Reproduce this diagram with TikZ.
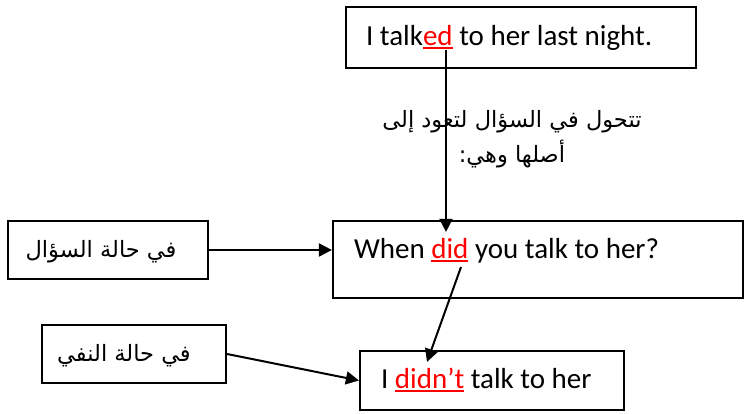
\documentclass[tikz,border=0pt]{standalone}
\usepackage{fontspec}
\setmainfont{Carlito}
\newfontfamily\arabicfont[Script=Arabic]{DejaVu Sans}
\TeXXeTstate=1
\usetikzlibrary{arrows.meta,positioning}
\newcommand\marked[1]{\textcolor{red}{\setbox0\hbox{#1}\rlap{\rule[-3pt]{\wd0}{1.6pt}}\box0}}

\begin{document}
\begin{tikzpicture}[x=1pt,y=-1pt,
  b/.style={draw,line width=2.2pt,inner sep=0pt},
  s/.style={font=\fontsize{29}{34}\selectfont,inner sep=0pt,anchor=base west},
  ar/.style={font=\arabicfont\fontsize{22.5}{35}\selectfont,align=center,inner sep=0pt},
  arr/.style={line width=2pt,-{Triangle[length=13pt,width=13pt]}}]
\useasboundingbox (0,0) rectangle (745,414);
% the three sentences
\node[b,minimum width=350pt,minimum height=61pt] (past) at (521,37.5) {};
\node[b,minimum width=410pt,minimum height=77pt] (quest) at (538,259.5) {};
\node[b,minimum width=264pt,minimum height=59pt] (neg) at (492,380.5) {};
\node[s] (pastt) at ([xshift=21pt,yshift=-40pt]past.north west) {I talk\marked{ed} to her last night.};
\node[s] (questt) at ([xshift=22pt,yshift=-39pt]quest.north west) {When \marked{did} you talk to her?};
\node[s] (negt) at ([xshift=22pt,yshift=-39pt]neg.north west) {I \marked{didn’t} talk to her};

% the two cases on the left
\node[b,minimum width=200pt,minimum height=58pt] (qcase) at (108,250) {};
\node[b,minimum width=184pt,minimum height=58pt] (ncase) at (134,354) {};
\node[ar] (qcaset) at ([xshift=-7pt,yshift=-2pt]qcase.center) {\beginR في حالة السؤال\endR};
\node[ar] (ncaset) at ([xshift=-10pt,yshift=-2pt]ncase.center) {\beginR في حالة النفي\endR};

\node[ar] (note) at (512,139) {\beginR تتحول في السؤال لتعود إلى\endR\\\beginR أصلها وهي:\endR};

\coordinate (edmk) at (446,50);
\coordinate (didmk) at (461,267);
\coordinate (didnttip) at (427,362);

\draw[arr] (edmk) -- ([yshift=-12pt]edmk |- quest.north);
\draw[arr] (didmk) -- (didnttip);
\draw[arr] (qcase.east) -- (qcase.east -| quest.west);
\draw[arr] (ncase.east) -- (neg.west);
\end{tikzpicture}
\end{document}
